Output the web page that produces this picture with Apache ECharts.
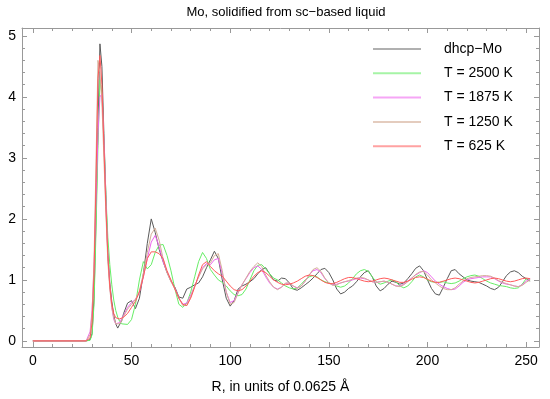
<!DOCTYPE html>
<html><head><meta charset="utf-8">
<script src="https://cdn.jsdelivr.net/npm/echarts@6/dist/echarts.min.js"></script>
<style>html,body{margin:0;padding:0;background:#fff}#c{width:550px;height:399px}</style>
</head><body><div id="c"></div>
<script>
const R = [0,
 27,28,29,30,31,32,33,34,35,36,37,38,39,40,41,42,43,44,45,
 46,48,50,52,54,56,58,60,62,64,66,68,70,
 72,74,76,78,80,82,84,86,88,90,92,94,96,
 98,100,102,104,106,108,110,112,114,116,118,120,122,
 124,126,128,130,132,134,136,138,140,142,144,146,148,
 150,152,154,156,158,160,162,164,166,168,170,172,174,
 176,178,180,182,184,186,188,190,192,194,196,198,200,
 202,204,206,208,210,212,214,216,218,220,222,224,226,
 228,230,232,234,236,238,240,242,244,246,248,250,252];

const dhcpMo = [0,
 0,0,0.02,0.12,0.7,2.0,3.5,4.87,4.5,3.4,2.4,1.45,0.95,0.65,0.42,0.28,0.21,0.24,0.33,
 0.45,0.62,0.66,0.53,0.7,1.1,1.6,2.0,1.78,1.5,1.3,1.12,0.98,
 0.88,0.72,0.7,0.85,0.88,0.92,0.95,1.05,1.2,1.33,1.47,1.35,1.0,
 0.7,0.57,0.66,0.85,0.9,0.93,0.97,1.02,1.1,1.17,1.2,1.1,1.0,
 0.98,1.03,1.02,0.95,0.85,0.83,0.87,0.92,0.97,1.03,1.1,1.17,1.19,
 1.12,1.0,0.85,0.77,0.8,0.86,0.9,0.97,1.05,1.12,1.15,1.05,0.9,
 0.82,0.86,0.93,0.98,0.96,0.93,0.95,1.02,1.1,1.19,1.23,1.15,1.0,
 0.86,0.77,0.75,0.88,1.02,1.15,1.17,1.1,1.05,1.0,0.98,0.97,0.96,
 0.93,0.9,0.86,0.84,0.88,0.97,1.07,1.13,1.15,1.12,1.06,1.02,0.98];

const t2500 = [0,
 0,0,0.01,0.1,0.6,1.8,3.2,4.28,4.05,3.3,2.4,1.7,1.25,0.92,0.67,0.5,0.39,0.32,0.28,
 0.26,0.27,0.35,0.6,1.0,1.3,1.18,1.25,1.45,1.57,1.58,1.4,1.15,
 0.85,0.6,0.55,0.62,0.8,1.05,1.3,1.45,1.35,1.17,1.08,1.0,0.96,
 0.9,0.82,0.76,0.74,0.76,0.85,1.0,1.15,1.24,1.25,1.18,1.1,1.03,
 1.0,0.95,0.9,0.87,0.85,0.87,0.93,1.0,1.05,1.07,1.05,1.0,0.97,
 0.95,0.93,0.9,0.88,0.9,0.95,1.02,1.1,1.15,1.17,1.14,1.05,0.97,
 0.93,0.95,0.98,1.0,0.97,0.9,0.87,0.9,0.97,1.05,1.08,1.05,1.0,
 0.97,0.96,0.96,0.97,0.95,0.94,0.95,0.98,1.02,1.05,1.07,1.08,1.06,
 1.02,0.98,0.95,0.93,0.91,0.9,0.89,0.87,0.86,0.87,0.93,1.02,1.0];

const t1875 = [0,
 0,0.03,0.15,0.5,1.2,2.3,3.4,4.0,4.05,3.3,2.3,1.4,0.9,0.55,0.35,0.28,0.27,0.3,0.36,
 0.42,0.55,0.63,0.68,0.8,1.05,1.35,1.62,1.73,1.55,1.3,1.13,0.98,
 0.86,0.7,0.6,0.62,0.75,0.9,1.05,1.2,1.27,1.25,1.33,1.35,1.1,
 0.8,0.63,0.66,0.8,0.92,1.02,1.12,1.2,1.23,1.17,1.05,0.95,0.88,
 0.85,0.88,0.94,0.95,0.9,0.87,0.9,0.98,1.08,1.15,1.17,1.12,1.02,
 0.95,0.92,0.93,0.95,0.97,0.98,1.0,1.02,1.03,1.02,1.0,0.97,0.96,
 0.97,0.98,0.96,0.93,0.9,0.9,0.93,0.98,1.03,1.08,1.12,1.15,1.12,
 1.05,0.98,0.93,0.89,0.86,0.84,0.85,0.9,0.96,1.0,1.02,1.03,1.04,
 1.05,1.05,1.05,1.02,0.98,0.95,0.93,0.92,0.9,0.89,0.92,0.98,1.02];

const t1250 = [0,
 0,0.01,0.1,0.45,1.3,2.9,4.6,4.4,3.9,3.0,2.1,1.3,0.85,0.55,0.38,0.28,0.26,0.28,0.33,
 0.4,0.52,0.6,0.68,0.82,1.1,1.45,1.75,1.85,1.65,1.35,1.12,0.97,
 0.85,0.7,0.58,0.58,0.72,0.9,1.05,1.18,1.25,1.28,1.4,1.43,1.15,
 0.8,0.6,0.63,0.78,0.92,1.03,1.14,1.22,1.28,1.22,1.08,0.97,0.88,
 0.84,0.88,0.95,0.95,0.9,0.86,0.9,0.98,1.08,1.17,1.2,1.14,1.03,
 0.95,0.91,0.92,0.95,0.97,0.99,1.01,1.03,1.04,1.03,1.0,0.97,0.96,
 0.97,0.98,0.96,0.93,0.9,0.89,0.92,0.97,1.03,1.09,1.13,1.14,1.08,
 1.0,0.95,0.9,0.86,0.84,0.84,0.87,0.93,0.98,1.02,1.04,1.05,1.06,
 1.07,1.07,1.06,1.03,0.99,0.96,0.94,0.92,0.9,0.89,0.91,0.96,1.0];

const t625 = [0,
 0,0,0.05,0.3,1.1,2.6,4.3,4.68,4.2,3.2,2.2,1.4,0.9,0.6,0.45,0.38,0.36,0.36,0.37,
 0.39,0.45,0.55,0.65,0.8,1.05,1.35,1.46,1.46,1.43,1.35,1.15,1.0,
 0.85,0.7,0.6,0.58,0.7,0.88,1.08,1.25,1.3,1.22,1.15,1.1,1.06,
 0.98,0.9,0.84,0.82,0.84,0.9,0.98,1.06,1.12,1.15,1.12,1.06,1.0,
 0.96,0.93,0.92,0.93,0.95,0.98,1.02,1.06,1.08,1.07,1.04,1.0,0.96,
 0.94,0.94,0.96,0.99,1.02,1.04,1.04,1.02,1.0,0.98,0.97,0.98,1.0,
 1.02,1.03,1.02,1.0,0.98,0.96,0.96,0.98,1.01,1.04,1.05,1.04,1.01,
 0.98,0.96,0.96,0.98,1.0,1.02,1.03,1.02,1.0,0.98,0.96,0.95,0.96,
 0.98,1.0,1.02,1.03,1.02,1.0,0.98,0.97,0.98,1.0,1.02,1.03,1.02];

const seriesNames = ['dhcp\u2212Mo', 'T = 2500 K', 'T = 1875 K', 'T = 1250 K', 'T = 625 K'];
const seriesValues = [dhcpMo, t2500, t1875, t1250, t625];
const seriesColors = ['#5a5a5a', '#66ee66', '#ee66ee', '#d4ae98', '#ff5a5a'];
const legendColors = ['#b0b0b0', '#a6f4a6', '#f6a6f6', '#e4ccbe', '#ffa2a2'];

const FONT = 'Liberation Sans, Arial, sans-serif';
const chart = echarts.init(document.getElementById('c'), null, {renderer: 'canvas'});

function xAx(pos, labels) {
  return {
    type: 'value', position: pos, min: -5.5, max: 256.5, splitNumber: 5,
    axisLine: {show: true, onZero: false, lineStyle: {color: '#999', width: 1}},
    axisTick: {show: true, inside: true, length: 5, lineStyle: {color: '#999'}},
    minorTick: {show: true, splitNumber: 5, length: 3, lineStyle: {color: '#999'}},
    splitLine: {show: false},
    axisLabel: labels ? {show: true, color: '#000', fontFamily: FONT, fontSize: 14, margin: 7,
      showMinLabel: false, showMaxLabel: false,
      formatter: v => (Math.abs(v % 50) < 1e-9 ? String(v) : '')} : {show: false},
    name: labels ? 'R, in units of 0.0625 \u00C5' : '',
    nameLocation: 'middle', nameGap: 33,
    nameTextStyle: {color: '#000', fontFamily: FONT, fontSize: 14}
  };
}
function yAx(pos, labels) {
  return {
    type: 'value', position: pos, min: -0.1, max: 5.13, splitNumber: 5,
    axisLine: {show: true, onZero: false, lineStyle: {color: '#999', width: 1}},
    axisTick: {show: true, inside: true, length: 5, lineStyle: {color: '#999'}},
    minorTick: {show: true, splitNumber: 5, length: 3, lineStyle: {color: '#999'}},
    splitLine: {show: false},
    axisLabel: labels ? {show: true, color: '#000', fontFamily: FONT, fontSize: 14, margin: 6,
      showMinLabel: false, showMaxLabel: false,
      formatter: v => (Math.abs(v - Math.round(v)) < 1e-9 ? String(Math.round(v)) : '')} : {show: false}
  };
}

chart.setOption({
  animation: false,
  backgroundColor: '#fff',
  title: {text: 'Mo, solidified from sc\u2212based liquid', left: 281, textAlign: 'center', top: 1,
    textStyle: {color: '#000', fontFamily: FONT, fontSize: 13, fontWeight: 'normal'}},
  grid: {left: 22, right: 11, top: 28, bottom: 51, containLabel: false},
  xAxis: [xAx('bottom', true), xAx('top', false)],
  yAxis: [yAx('left', true), yAx('right', false)],
  legend: {
    show: true, orient: 'vertical', left: 372, top: 42, padding: 0,
    itemWidth: 48, itemHeight: 14, itemGap: 10.3,
    itemStyle: {opacity: 0},
    lineStyle: {width: 2},
    textStyle: {color: '#000', fontFamily: FONT, fontSize: 14, lineHeight: 14, padding: [0, 0, 0, 18]},
    data: seriesNames.map((n, k) => ({name: n, lineStyle: {color: legendColors[k], width: 2}}))
  },
  series: seriesNames.map((n, k) => ({
    name: n, type: 'line', xAxisIndex: 0, yAxisIndex: 0,
    data: R.map((r, i) => [r, seriesValues[k][i]]),
    symbol: 'none', smooth: false, clip: true,
    lineStyle: {color: seriesColors[k], width: 1},
    itemStyle: {color: seriesColors[k]}
  }))
});
</script></body></html>
